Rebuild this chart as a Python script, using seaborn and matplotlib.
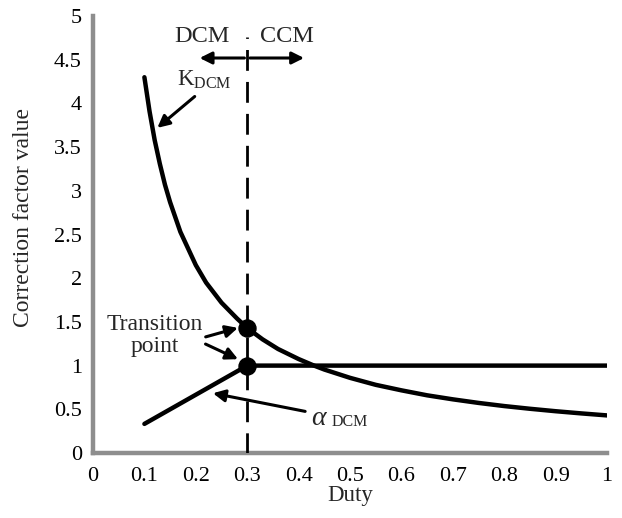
import matplotlib
matplotlib.use("Agg")
import matplotlib.pyplot as plt
import seaborn as sns
import pandas as pd

# Data
duty_k = [0.10, 0.11, 0.12, 0.13, 0.14, 0.15, 0.17, 0.20, 0.22, 0.25, 0.28, 0.30,
          0.33, 0.36, 0.40, 0.43, 0.45, 0.50, 0.55, 0.60, 0.65, 0.70, 0.75, 0.80,
          0.85, 0.90, 0.95, 1.00]
k_dcm = [4.30, 3.91, 3.58, 3.31, 3.07, 2.87, 2.53, 2.15, 1.95, 1.72, 1.54, 1.43,
         1.30, 1.19, 1.075, 1.00, 0.955, 0.86, 0.78, 0.717, 0.66, 0.614, 0.573, 0.537,
         0.506, 0.478, 0.453, 0.43]
duty_a = [0.10, 0.30, 0.40, 0.60, 0.80, 1.00]
alpha_dcm = [0.333, 1.00, 1.00, 1.00, 1.00, 1.00]
trans_x = [0.3, 0.3]
trans_y = [1.43, 1.00]
x_ticks = [0, 0.1, 0.2, 0.3, 0.4, 0.5, 0.6, 0.7, 0.8, 0.9, 1.0]
x_ticklabels = ["0", "0.1", "0.2", "0.3", "0.4", "0.5", "0.6", "0.7", "0.8", "0.9", "1"]
y_ticks = [0, 0.5, 1, 1.5, 2, 2.5, 3, 3.5, 4, 4.5, 5]
y_ticklabels = ["0", "0.5", "1", "1.5", "2", "2.5", "3", "3.5", "4", "4.5", "5"]

sns.set_theme(style="white")
plt.rcParams['font.family'] = ['Liberation Serif', 'DejaVu Serif']
plt.rcParams['mathtext.fontset'] = 'custom'
plt.rcParams['mathtext.rm'] = 'Liberation Serif'
plt.rcParams['mathtext.it'] = 'Liberation Serif:italic'

fig = plt.figure(figsize=(6.22, 5.18), dpi=100)
ax = fig.add_axes([0.1495, 0.1255, 0.8265, 0.8435])

dfk = pd.DataFrame({"Duty": duty_k, "v": k_dcm})
dfa = pd.DataFrame({"Duty": duty_a, "v": alpha_dcm})
sns.lineplot(data=dfk, x="Duty", y="v", ax=ax, color="black", linewidth=3.2)
sns.lineplot(data=dfa, x="Duty", y="v", ax=ax, color="black", linewidth=3.2)
sns.scatterplot(x=trans_x, y=trans_y, ax=ax, color="black", s=150, edgecolor="black", zorder=5)

# vertical dashed boundary line (drawn from top down)
ax.plot([0.3, 0.3], [4.76, 0], color="black", lw=2.0, ls=(7.0, (7.5, 4)), zorder=3)

ax.set_xlim(0, 1)
ax.set_ylim(0, 5)
ax.set_xticks(x_ticks)
ax.set_xticklabels(x_ticklabels)
ax.set_yticks(y_ticks)
ax.set_yticklabels(y_ticklabels)

for s in ["top", "right"]:
    ax.spines[s].set_visible(False)
for s in ["left", "bottom"]:
    ax.spines[s].set_color("#8e8e8e")
    ax.spines[s].set_linewidth(3.2)
ax.tick_params(axis="both", which="both", direction="out", length=4, width=3.2,
               color="#8e8e8e", labelsize=16, labelcolor="black")
ax.tick_params(axis="x", pad=6)
ax.tick_params(axis="y", pad=4)
ax.set_xlabel("")
ax.set_ylabel("")
ax.text(0.5, -0.074, "Duty", transform=ax.transAxes, fontsize=16.5,
        ha="center", va="top")
ax.text(-0.136, 0.538, "Correction factor value", transform=ax.transAxes,
        fontsize=17, rotation=90, ha="center", va="center")

arrow_kw = dict(arrowstyle="-|>", color="black", lw=2.2, mutation_scale=18)

# DCM / CCM double arrow
ax.annotate("", xy=(0.202, 4.52), xytext=(0.3, 4.52), arrowprops=arrow_kw)
ax.annotate("", xy=(0.416, 4.52), xytext=(0.3, 4.52), arrowprops=arrow_kw)
ax.text(0.212, 4.77, "DCM", fontsize=17.5, ha="center", va="center")
ax.text(0.378, 4.77, "CCM", fontsize=17.5, ha="center", va="center")

# K_DCM label
ax.text(0.163, 4.27, r"K$_{\mathrm{DCM}}$", fontsize=16.5, ha="left", va="center")
ax.annotate("", xy=(0.121, 3.70), xytext=(0.202, 4.10), arrowprops=arrow_kw)

# Transition point
ax.text(0.12, 1.34, "Transition\npoint", fontsize=17, ha="center", va="center",
        linespacing=1.05)
ax.annotate("", xy=(0.287, 1.44), xytext=(0.214, 1.32), arrowprops=arrow_kw)
ax.annotate("", xy=(0.287, 1.06), xytext=(0.214, 1.26), arrowprops=arrow_kw)

# alpha_DCM label
ax.text(0.424, 0.41, r"$\alpha$", fontsize=20, ha="left", va="center",
        family="DejaVu Sans")
ax.text(0.465, 0.35, "DCM", fontsize=11.5, ha="left", va="center")
ax.annotate("", xy=(0.228, 0.69), xytext=(0.418, 0.47), arrowprops=arrow_kw)

fig.savefig("out.png", dpi=100)
